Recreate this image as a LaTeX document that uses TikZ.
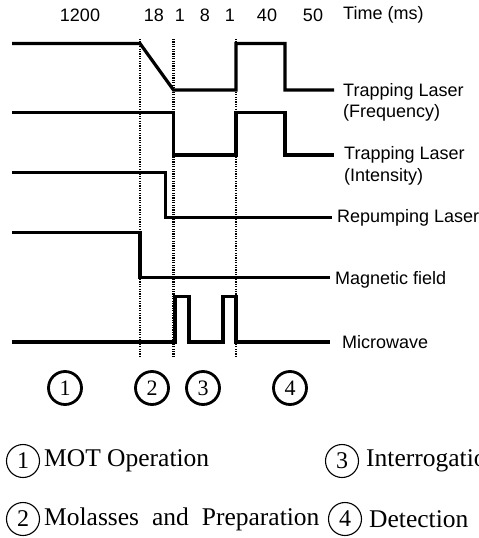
\documentclass[tikz,border=0pt]{standalone}
\usepackage{fontspec}
\setmainfont{Liberation Serif}
\setsansfont{Liberation Sans}
\begin{document}
\begin{tikzpicture}[x=1pt,y=-1pt,
    signal/.style={line width=3.2pt},
    marker/.style={line width=2.2pt, dash pattern=on 1.2pt off 1.2pt},
    tick/.style={font=\sffamily\fontsize{18}{20}\selectfont, inner sep=0pt},
    lbl/.style={tick, anchor=west},
    phase/.style={circle, draw, line width=2.8pt, minimum size=33pt, inner sep=0pt, font=\fontsize{22}{24}\selectfont},
    key/.style={circle, draw, line width=1.1pt, minimum size=33pt, inner sep=0pt, font=\fontsize{24}{26}\selectfont},
    keytext/.style={anchor=west, inner sep=0pt, font=\fontsize{25.5}{28}\selectfont}]
    \useasboundingbox (0,0) rectangle (479,538);
    \clip (0,0) rectangle (479,538);
    % time marks
    \draw[marker] (140,39) -- (140,356);
    \draw[marker] (173.5,39) -- (173.5,356);
    \draw[marker] (236,39) -- (236,356);
    % durations
    \node[tick] (t1200) at (80,15) {1200};
    \node[tick] (t18) at (154,15) {18};
    \node[tick] (t1a) at (180,15) {1};
    \node[tick] (t8) at (205,15) {8};
    \node[tick] (t1b) at (230,15) {1};
    \node[tick] (t40) at (267,15) {40};
    \node[tick] (t50) at (313,15) {50};
    \node[lbl] (time) at (343,15) {Time (ms)};
    % signals
    \draw[signal] (12,43.5) -- (140,43.5) -- (173.5,90) -- (236,90) -- (236,43.5)
        -- (285,43.5) -- (285,90) -- (334,90);
    \draw[signal] (12,112.5) -- (173.5,112.5) -- (173.5,155) -- (236,155) -- (236,112.5)
        -- (285,112.5) -- (285,155) -- (334,155);
    \draw[signal] (12,172.5) -- (165.5,172.5) -- (165.5,217.5) -- (332,217.5);
    \draw[signal] (12,232.5) -- (140,232.5) -- (140,277.5) -- (330,277.5);
    \draw[signal] (12,342) -- (175,342) -- (175,296.5) -- (189,296.5) -- (189,342)
        -- (223,342) -- (223,296.5) -- (236,296.5) -- (236,342) -- (330,342);
    % signal names
    \node[lbl] (freq1) at (343,92) {Trapping Laser};
    \node[lbl] (freq2) at (343,113) {(Frequency)};
    \node[lbl] (int1) at (344,155) {Trapping Laser};
    \node[lbl] (int2) at (344,177) {(Intensity)};
    \node[lbl] (repump) at (337,218) {Repumping Laser};
    \node[lbl] (bfield) at (335,280) {Magnetic field};
    \node[lbl] (mw) at (342,342) {Microwave};
    % phases
    \node[phase] (p1) at (65,388) {1};
    \node[phase] (p2) at (152,388) {2};
    \node[phase] (p3) at (203,388) {3};
    \node[phase] (p4) at (290,388) {4};
    % legend
    \node[key] (k1) at (23,461) {1};
    \node[keytext] (mot) at (44,461) {MOT Operation};
    \node[key] (k3) at (342,461) {3};
    \node[keytext] (interr) at (366,461) {Interrogation};
    \node[key] (k2) at (23,519) {2};
    \node[keytext] (mol) at (44,519) {Molasses\hspace{13pt}and\hspace{13pt}Preparation};
    \node[key] (k4) at (345,519) {4};
    \node[keytext] (det) at (369,519) {Detection};
\end{tikzpicture}
\end{document}
